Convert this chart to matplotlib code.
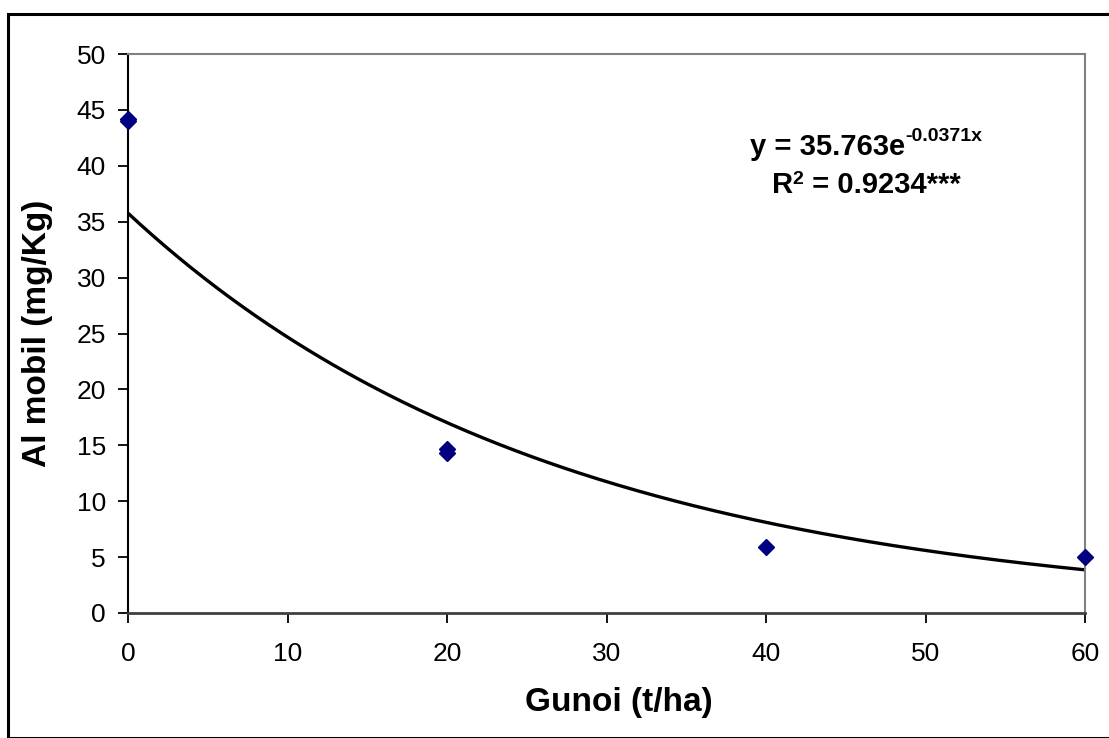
import numpy as np
import matplotlib.pyplot as plt
from matplotlib.patches import Rectangle

plt.rcParams['font.family'] = ['Liberation Sans', 'DejaVu Sans']

# data
gunoi = [0, 0, 20, 20, 40, 60]
al_mobil = [44.2, 44.0, 14.7, 14.3, 5.9, 5.0]

# exponential trendline shown on the chart
coef_a = 35.763
coef_b = -0.0371
r2_text = '0.9234***'

W, H = 1109, 738
fig = plt.figure(figsize=(W / 100, H / 100), dpi=100)

# outer chart border (only left/top visible, rest is cropped)
fig.patches.append(Rectangle((7.5 / W, 0), 1.2, 1 - 14 / H, transform=fig.transFigure,
                             fill=False, edgecolor='black', linewidth=2.2))

ax = fig.add_axes([128 / W, 1 - 613 / H, (1085 - 128) / W, (613 - 54) / H])

xs = np.linspace(0, 60, 300)
ax.plot(xs, coef_a * np.exp(coef_b * xs), color='black', linewidth=2.4, zorder=2)
ax.plot(gunoi, al_mobil, linestyle='none', marker='D', markersize=8,
        color='#000080', clip_on=False, zorder=3)

ax.set_xlim(0, 60)
ax.set_ylim(0, 50)
ax.set_xticks(range(0, 61, 10))
ax.set_yticks(range(0, 51, 5))
ax.tick_params(axis='both', labelsize=19, direction='out', length=7, width=1.3, color='black')
ax.tick_params(axis='x', pad=14)
ax.tick_params(axis='y', pad=9)

ax.spines['left'].set_color('black')
ax.spines['left'].set_linewidth(1.5)
ax.spines['bottom'].set_color('#404040')
ax.spines['bottom'].set_linewidth(2)
ax.spines['top'].set_color('#808080')
ax.spines['top'].set_linewidth(1.5)
ax.spines['right'].set_color('#808080')
ax.spines['right'].set_linewidth(1.5)

fig.text(619 / W, 1 - 702 / H, 'Gunoi (t/ha)', ha='center', va='center',
         fontsize=24, fontweight='bold')
fig.text(38 / W, 1 - 333 / H, 'Al mobil (mg/Kg)', ha='center', va='center',
         rotation=90, fontsize=24, fontweight='bold')

# equation text: base + superscript, laid out in pixels
renderer = fig.canvas.get_renderer()


def base_sup(base, sup, cx, baseline, rise, rest=''):
    parts = [(base, 21, 0), (sup, 14, rise), (rest, 21, 0)]
    items = []
    for txt, size, r in parts:
        if not txt:
            continue
        t = fig.text(0, 0, txt, fontsize=size, fontweight='bold',
                     ha='left', va='baseline', transform=None)
        w = t.get_window_extent(renderer).width
        items.append((t, w, r))
    total = sum(w for _, w, _ in items)
    x = cx - total / 2
    for t, w, r in items:
        t.set_position((x, H - baseline + r))
        x += w


base_sup('y = %.3fe' % coef_a, '%g' % coef_b + 'x', 866, 155, 14)
base_sup('R', '2', 866, 193, 9, ' = ' + r2_text)

fig.savefig('out.png', dpi=100)
